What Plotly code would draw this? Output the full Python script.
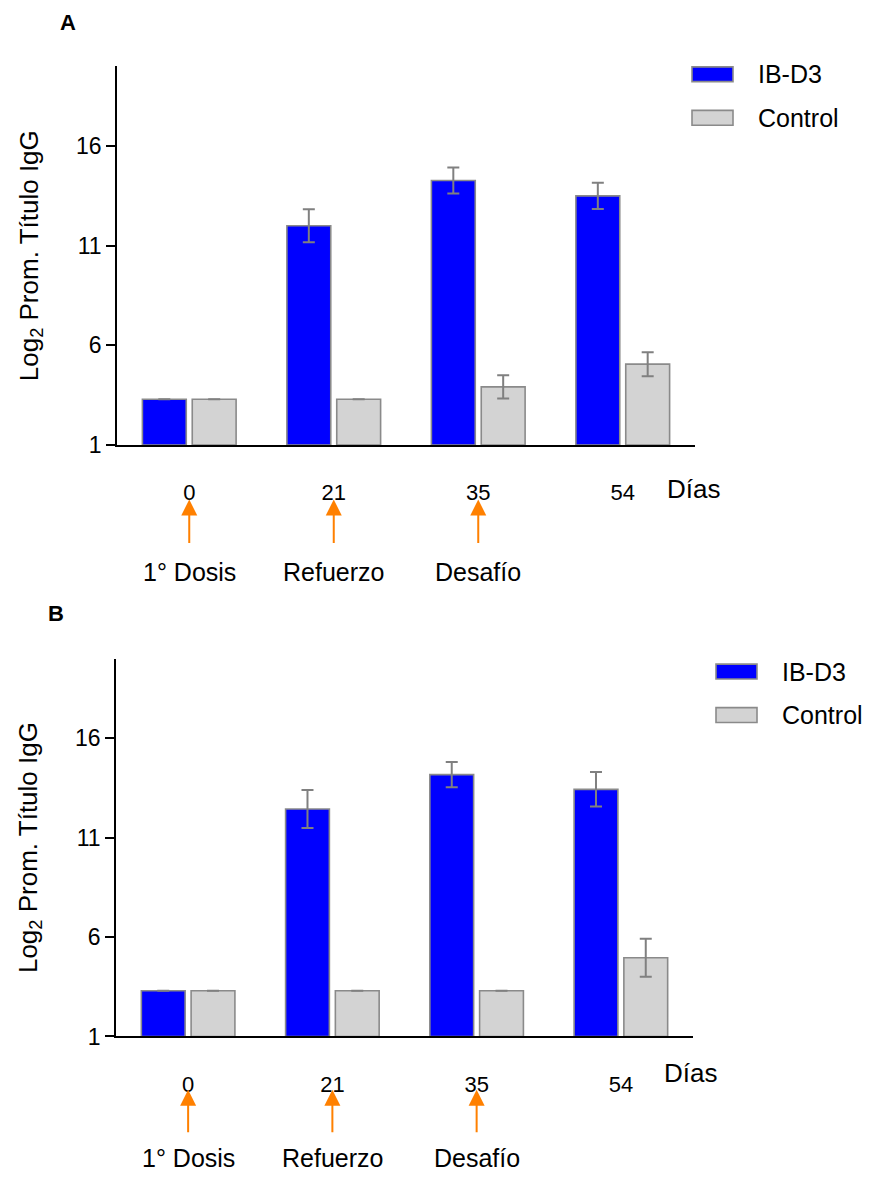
import plotly.graph_objects as go

# ---------------- data ----------------
days = ["0", "21", "35", "54"]
series_names = ["IB-D3", "Control"]

ib_a = [3.3, 12.0, 14.27, 13.5]
ib_a_err = [None, 0.83, 0.65, 0.66]
ctrl_a = [3.3, 3.3, 3.92, 5.06]
ctrl_a_err = [None, None, 0.58, 0.60]

ib_b = [3.3, 12.44, 14.17, 13.43]
ib_b_err = [None, 0.96, 0.63, 0.87]
ctrl_b = [3.3, 3.3, 3.3, 4.96]
ctrl_b_err = [None, None, None, 0.96]

events = ["1° Dosis", "Refuerzo", "Desafío"]
event_idx = [0, 1, 2]

y_ticks = [1, 6, 11, 16]
y_range = [1, 20]

# ---------------- styling ----------------
PAGE_W, PAGE_H = 871, 1187
BODY_MARGIN = 8          # default browser body margin
W, H = PAGE_W - 2 * BODY_MARGIN, PAGE_H - 2 * BODY_MARGIN
FONT = "Liberation Sans, Arial, sans-serif"
BLUE = "#0000FF"
GREY = "#D3D3D3"
EDGE = "#8A8A8A"
ORANGE = "#FF8000"


def px_x(p):
    return (p - BODY_MARGIN) / W


def px_y(p):
    return 1 - (p - BODY_MARGIN) / H


x_pos = list(range(len(days)))

fig = go.Figure()

panels = [
    dict(ib=ib_a, ib_err=ib_a_err, ctrl=ctrl_a, ctrl_err=ctrl_a_err,
         xa="x", ya="y", xdom=[117, 695], ydom=[67, 450],
         letter="A", letter_pos=(68, 23), leg_x=692, leg_y=[75, 119],
         arrow_tip=505, arrow_tail=549, event_y=578, dias=(693, 494)),
    dict(ib=ib_b, ib_err=ib_b_err, ctrl=ctrl_b, ctrl_err=ctrl_b_err,
         xa="x2", ya="y2", xdom=[116, 693], ydom=[666, 1048],
         letter="B", letter_pos=(56, 620), leg_x=716, leg_y=[679, 723],
         arrow_tip=1102, arrow_tail=1145, event_y=1170, dias=(690, 1085)),
]

annotations = []
shapes = []

for i, p in enumerate(panels):
    for name, vals, errs, col in [
        (series_names[0], p["ib"], p["ib_err"], BLUE),
        (series_names[1], p["ctrl"], p["ctrl_err"], GREY),
    ]:
        fig.add_trace(go.Bar(
            x=x_pos, y=[v - y_range[0] for v in vals], base=y_range[0],
            name=name, xaxis=p["xa"], yaxis=p["ya"],
            marker=dict(color=col, line=dict(color=EDGE, width=1.6)),
            error_y=dict(type="data", array=errs, visible=True,
                         color="#808080", thickness=2, width=6),
            showlegend=False,
        ))

    suffix = "" if i == 0 else "2"
    fig.layout["xaxis" + suffix] = dict(
        domain=[px_x(p["xdom"][0]), px_x(p["xdom"][1])],
        anchor="y" + suffix, range=[-0.5, 3.5],
        tickvals=x_pos, ticktext=days, ticks="",
        showline=True, linecolor="black", linewidth=2,
        showgrid=False, zeroline=False,
        tickfont=dict(family=FONT, size=22, color="black"),
        ticklabelstandoff=27,
    )
    fig.layout["yaxis" + suffix] = dict(
        domain=[px_y(p["ydom"][1]), px_y(p["ydom"][0])],
        anchor="x" + suffix, range=y_range,
        tickvals=y_ticks, ticks="outside", ticklen=9, tickwidth=1.5,
        tickcolor="black", showline=True, linecolor="black", linewidth=1.5,
        showgrid=False, zeroline=False,
        tickfont=dict(family=FONT, size=23, color="black"),
        title=dict(text="Log<sub>2</sub> Prom. Título IgG",
                   font=dict(family=FONT, size=26, color="black"),
                   standoff=30),
    )

    # panel letter
    annotations.append(dict(
        text="<b>%s</b>" % p["letter"], xref="paper", yref="paper",
        x=px_x(p["letter_pos"][0]), y=px_y(p["letter_pos"][1]),
        xanchor="center", yanchor="middle", showarrow=False,
        font=dict(family=FONT, size=22, color="black")))

    # "Días"
    annotations.append(dict(
        text="Días", xref="paper", yref="paper",
        x=px_x(p["dias"][0]), y=px_y(p["dias"][1]),
        xanchor="center", yanchor="middle", showarrow=False,
        font=dict(family=FONT, size=26, color="black")))

    # event labels with arrows pointing up to the day labels
    for ev, idx in zip(events, event_idx):
        annotations.append(dict(
            text=ev, x=idx, xref=p["xa"], y=px_y(p["arrow_tip"]), yref="paper",
            showarrow=True, ax=0, ay=p["event_y"] - p["arrow_tip"],
            arrowhead=2, arrowsize=1.6, arrowwidth=2, arrowcolor=ORANGE,
            startstandoff=p["event_y"] - 15 - p["arrow_tail"],
            font=dict(family=FONT, size=25, color="black")))

    # legend (manual swatches)
    for name, col, yc in zip(series_names, [BLUE, GREY], p["leg_y"]):
        shapes.append(dict(
            type="rect", xref="paper", yref="paper",
            x0=px_x(p["leg_x"]), x1=px_x(p["leg_x"] + 41),
            y0=px_y(yc + 7.5), y1=px_y(yc - 7.5),
            fillcolor=col, line=dict(color=EDGE, width=1.6)))
        annotations.append(dict(
            text=name, xref="paper", yref="paper",
            x=px_x(p["leg_x"] + 64), y=px_y(yc),
            xanchor="left", yanchor="middle", showarrow=False,
            font=dict(family=FONT, size=25, color="black")))

fig.update_layout(
    width=W, height=H,
    margin=dict(l=0, r=0, t=0, b=0),
    paper_bgcolor="white", plot_bgcolor="white",
    barmode="group", bargap=0.31, bargroupgap=0.12,
    showlegend=False,
    annotations=annotations, shapes=shapes,
    font=dict(family=FONT, color="black"),
)

fig.write_html("out.html", config={"displayModeBar": False})
